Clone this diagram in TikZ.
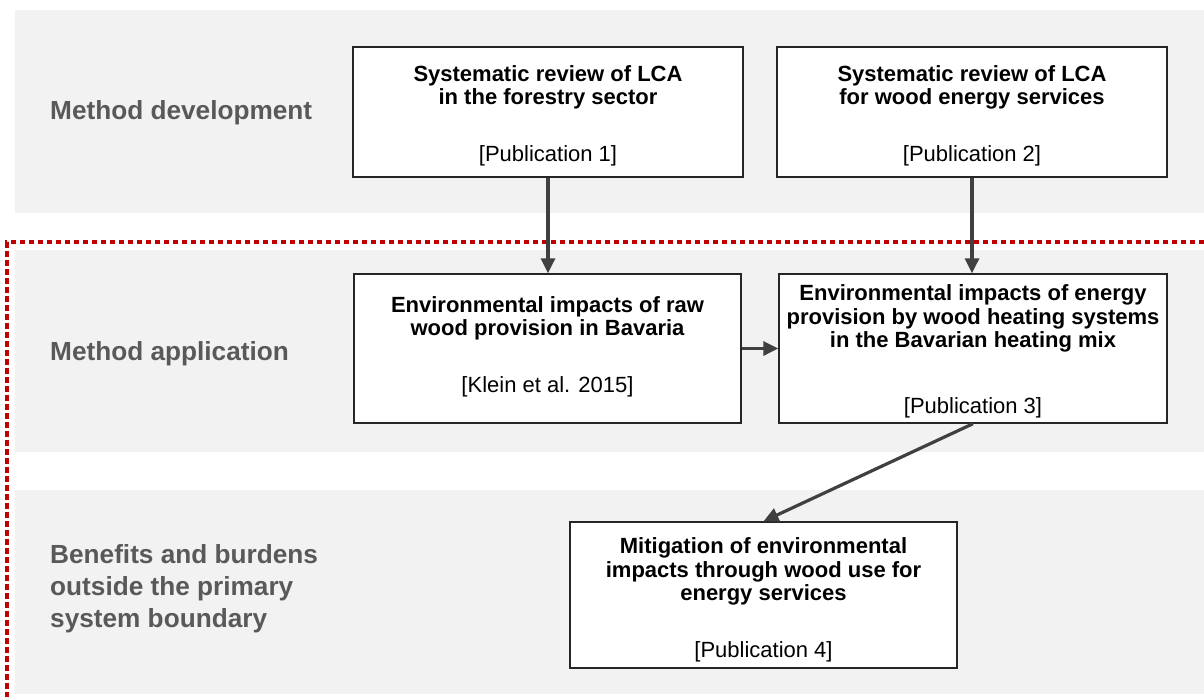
\documentclass[tikz,border=0pt]{standalone}
\usepackage{fontspec}
\setmainfont{Liberation Sans}
\usetikzlibrary{arrows.meta,shadows}
\definecolor{bandfill}{HTML}{F2F2F2}
\definecolor{boundary}{HTML}{C00000}
\definecolor{labelgray}{HTML}{595959}
\definecolor{arrowgray}{HTML}{404040}

\begin{document}
\begin{tikzpicture}[x=1pt,y=-1pt,
  band/.style={fill=bandfill, draw=none},
  stepbox/.style={draw=black!85, line width=1.4pt, fill=white, inner sep=0pt,
    general shadow={fill=black!35, shadow xshift=1pt, shadow yshift=-1.4pt}},
  boxtext/.style={inner sep=0pt, align=center, font=\fontsize{22}{23.5}\selectfont},
  rowlabel/.style={anchor=west, align=left, text=labelgray, inner sep=0pt,
    font=\fontsize{26.2}{32}\selectfont\bfseries},
  flow/.style={draw=arrowgray, line width=3.2pt, -{Triangle[length=15pt,width=14pt]}},
  limit/.style={draw=boundary, line width=3.4pt, dash pattern=on 5.5pt off 3.5pt}
]
\useasboundingbox (0,0) rectangle (1204,697);

% horizontal bands
\fill[band] (15,10) rectangle (1204,213);
\fill[band] (15,250) rectangle (1204,452);
\fill[band] (15,490) rectangle (1204,694);

% primary system boundary
\coordinate (limtr) at (1204,242);
\coordinate (limtl) at (7,242);
\coordinate (limbl) at (7,697);
\draw[limit, draw=black!12, shift={(1.2,1.5)}] (limtr) -- (limtl) -- (limbl);
\draw[limit] (limtr) -- (limtl) -- (limbl);

% row labels
\node[rowlabel] (ldev) at (50,113) {Method development};
\node[rowlabel] (lapp) at (50,354) {Method application};
\node[rowlabel] (lben) at (50,589) {Benefits and burdens\\outside the primary\\system boundary};

% boxes
\node[stepbox, minimum width=390pt, minimum height=130pt] (b1) at (548,112) {};
\node[stepbox, minimum width=390pt, minimum height=130pt] (b2) at (972,112) {};
\node[stepbox, minimum width=387pt, minimum height=149pt] (b3) at (547.5,348.5) {};
\node[stepbox, minimum width=388pt, minimum height=149pt] (b4) at (973,348.5) {};
\node[stepbox, minimum width=387pt, minimum height=146pt] (b5) at (763.5,595) {};

% box texts
\node[boxtext, yshift=-4pt] (t1) at (b1)
  {{\bfseries Systematic review of LCA}\\{\bfseries in the forestry sector}\\[33.5pt]{[Publication 1]}};
\node[boxtext, yshift=-4pt] (t2) at (b2)
  {{\bfseries Systematic review of LCA}\\{\bfseries for wood energy services}\\[33.5pt]{[Publication 2]}};
\node[boxtext, yshift=1.5pt] (t3) at (b3)
  {{\bfseries Environmental impacts of raw}\\{\bfseries wood provision in Bavaria}\\[33.5pt]{[Klein et al. 2015]}};
\node[boxtext, yshift=-3pt] (t4) at (b4)
  {{\bfseries Environmental impacts of energy}\\{\bfseries provision by wood heating systems}\\{\bfseries in the Bavarian heating mix}\\[42.5pt]{[Publication 3]}};
\node[boxtext, yshift=-5pt] (t5) at (b5)
  {{\bfseries Mitigation of environmental}\\{\bfseries impacts through wood use for}\\{\bfseries energy services}\\[33.5pt]{[Publication 4]}};

% connectors
\draw[flow] (b1.south) -- (b1.south |- b3.north);
\draw[flow] (b2.south) -- (b2.south |- b4.north);
\draw[flow] (b3.east) -- (b4.west);
\draw[flow] (b4.south) -- (b5.north);
\end{tikzpicture}
\end{document}
